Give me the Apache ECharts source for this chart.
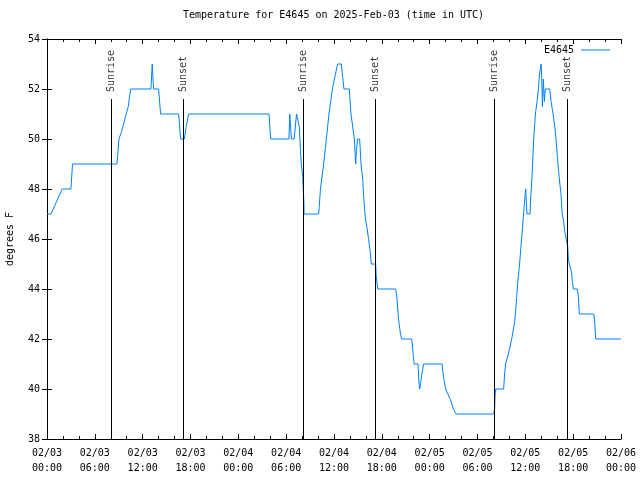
<!DOCTYPE html>
<html>
<head>
<meta charset="utf-8">
<script src="https://cdn.jsdelivr.net/npm/echarts@6/dist/echarts.min.js"></script>
<style>
html,body{margin:0;padding:0;background:#fff;}
#chart{width:640px;height:480px;}
</style>
</head>
<body>
<div id="chart"></div>
<script>
// Hours since 2025-02-03 00:00 UTC
var hours = [
  0.0, 0.5, 1.9, 3.0, 3.2, 8.77, 8.86, 9.02, 9.36, 9.69, 9.94, 10.19, 10.36, 10.49,
  13.04, 13.2, 13.37, 14.0, 14.25, 16.51, 16.64, 16.76, 17.22, 17.47, 17.77,
  27.85, 27.95, 28.05, 30.35, 30.45, 30.55, 30.65, 31.0, 31.3, 31.5, 31.65, 31.8, 31.9,
  32.07, 32.19, 32.22, 32.25, 34.07, 34.15, 34.3, 34.7, 35.04, 35.37, 35.8, 36.45,
  36.92, 37.25, 37.92, 38.13, 38.55, 38.72, 38.8, 38.96, 39.22, 39.39, 39.6, 39.72,
  39.93, 40.14, 40.35, 40.56, 40.68, 41.22, 41.3, 41.48, 43.73, 43.9, 44.1, 44.32,
  44.49, 45.74, 45.87, 45.99, 46.05, 46.54, 46.66, 46.75, 46.87, 47.04, 47.25, 49.55,
  49.67, 49.84, 50.0, 50.6, 51.02, 51.31, 56.03, 56.15, 56.2, 56.28, 57.28, 57.41,
  57.54, 57.79, 58.04, 58.29, 58.54, 58.67, 58.79, 58.92, 59.04, 59.21, 59.34, 59.47,
  59.59, 59.72, 59.84, 59.97, 60.05, 60.13, 60.2, 60.59, 60.63, 60.84, 61.05, 61.26,
  61.47, 61.64, 61.8, 61.98, 62.05, 62.14, 62.26, 62.39, 62.51, 63.06, 63.23, 63.48,
  63.69, 63.85, 64.02, 64.15, 64.32, 64.48, 64.6, 64.8, 64.95, 65.07, 65.32, 65.4,
  65.53, 65.66, 65.78, 65.9, 66.03, 66.53, 66.65, 66.78, 68.58, 68.7, 68.83, 72.0
];
var tempsF = [
  47, 47, 48, 48, 49, 49, 49.3, 50, 50.3, 50.7, 51, 51.3, 51.7, 52,
  52, 53, 52, 52, 51, 51, 50.5, 50, 50, 50.5, 51,
  51, 50.5, 50, 50, 51, 51, 50, 50, 51, 51, 50.5, 49.5, 49,
  48.5, 48.5, 47.5, 47, 47, 47.3, 48, 49, 50, 51, 52, 53,
  53, 52, 52, 51, 50, 49, 49.5, 50, 50, 49, 48.4, 47.7,
  46.84, 46.44, 45.97, 45.44, 45, 45, 44.5, 44, 44, 43.64, 42.77, 42.24,
  42, 42, 41.64, 41.17, 41, 41, 40.24, 40, 40.24, 40.64, 41, 41,
  40.64, 40.3, 40, 39.57, 39.17, 39, 39, 39.2, 39.7, 40, 40, 40.64,
  41.04, 41.3, 41.64, 42, 42, 42.7, 43.17, 43.7, 44.24, 44.77, 45.24, 45.77,
  46.24, 46.77, 47.24, 47.77, 48, 47.5, 47, 47, 47.4, 48.5, 50, 51,
  51.5, 52, 52.64, 53, 52.5, 51.3, 52.4, 51.5, 52, 52, 51.5, 51,
  50.5, 50, 49.3, 48.77, 48.24, 47.77, 47.04, 46.7, 46.3, 46.1, 45.7, 45.17,
  45, 45, 44.7, 44.3, 44, 44, 43.7, 43, 43, 42.7, 42, 42
];
var sunNames = ['Sunrise', 'Sunset', 'Sunrise', 'Sunset', 'Sunrise', 'Sunset'];
var sunHours = [8.1, 17.13, 32.19, 41.22, 56.15, 65.32];
var xTickLabels = [
  '02/03\n00:00', '02/03\n06:00', '02/03\n12:00', '02/03\n18:00',
  '02/04\n00:00', '02/04\n06:00', '02/04\n12:00', '02/04\n18:00',
  '02/05\n00:00', '02/05\n06:00', '02/05\n12:00', '02/05\n18:00',
  '02/06\n00:00'
];
var seriesName = 'E4645';
var titleText = 'Temperature for E4645 on 2025-Feb-03 (time in UTC)';
var yName = 'degrees F';

var markerTop = 51.6;
var FONT = 'DejaVu Sans Mono';

var lineData = hours.map(function (h, i) { return [h, tempsF[i]]; });
var markLines = sunHours.map(function (h) { return [{ coord: [h, 38] }, { coord: [h, markerTop] }]; });
var labelPts = sunHours.map(function (h, i) { return { name: sunNames[i], value: [h, markerTop] }; });

var chart = echarts.init(document.getElementById('chart'), null, { renderer: 'canvas' });
var axisLineStyle = { color: '#000', width: 1 };
var option = {
  animation: false,
  backgroundColor: '#fff',
  title: {
    text: titleText, left: 183, top: 10, padding: 0,
    textStyle: { fontFamily: FONT, fontSize: 10, fontWeight: 'normal', color: '#000' }
  },
  legend: {
    data: [{ name: seriesName, icon: 'rect' }], right: 30, top: 45, align: 'right', padding: 0,
    itemWidth: 29, itemHeight: 1, itemGap: 5,
    textStyle: { fontFamily: FONT, fontSize: 10, color: '#000', padding: [0, 2, 0, 0] }
  },
  grid: { left: 47, right: 19, top: 39, bottom: 41, containLabel: false, outerBoundsMode: 'none' },
  xAxis: [{
    type: 'value', min: 0, max: 72, interval: 6, position: 'bottom',
    axisLine: { show: true, lineStyle: axisLineStyle },
    axisTick: { show: true, inside: true, length: 5, lineStyle: axisLineStyle },
    minorTick: { show: true, splitNumber: 3, length: 3, lineStyle: axisLineStyle },
    splitLine: { show: false },
    axisLabel: {
      show: true, margin: 7, lineHeight: 15, fontFamily: FONT, fontSize: 10, color: '#000',
      showMinLabel: true, showMaxLabel: true,
      formatter: function (v) { return xTickLabels[Math.round(v / 6)]; }
    }
  }, {
    type: 'value', min: 0, max: 72, interval: 6, position: 'top',
    axisLine: { show: true, lineStyle: axisLineStyle },
    axisTick: { show: true, inside: true, length: 5, lineStyle: axisLineStyle },
    minorTick: { show: true, splitNumber: 3, length: 3, lineStyle: axisLineStyle },
    splitLine: { show: false }, axisLabel: { show: false }
  }],
  yAxis: [{
    type: 'value', min: 38, max: 54, interval: 2, position: 'left',
    name: yName, nameLocation: 'middle', nameRotate: 90, nameGap: 32,
    nameTextStyle: { fontFamily: FONT, fontSize: 10, color: '#000' },
    axisLine: { show: true, lineStyle: axisLineStyle },
    axisTick: { show: true, inside: true, length: 5, lineStyle: axisLineStyle },
    splitLine: { show: false },
    axisLabel: { margin: 7, fontFamily: FONT, fontSize: 10, color: '#000' }
  }, {
    type: 'value', min: 38, max: 54, interval: 2, position: 'right',
    axisLine: { show: true, lineStyle: axisLineStyle },
    axisTick: { show: true, inside: true, length: 5, lineStyle: axisLineStyle },
    splitLine: { show: false }, axisLabel: { show: false }
  }],
  series: [{
    name: seriesName, type: 'line', data: lineData, symbol: 'none', showSymbol: false,
    lineStyle: { color: '#0080ff', width: 1 }, itemStyle: { color: '#0080ff' },
    z: 2
  }, {
    name: 'sun', type: 'scatter', data: labelPts, symbolSize: 0, z: 3, silent: true,
    label: {
      show: true, position: 'top', distance: 7, rotate: 90, align: 'left', verticalAlign: 'middle',
      formatter: function (p) { return p.name; },
      fontFamily: FONT, fontSize: 10, color: '#000'
    },
    markLine: {
      silent: true, symbol: ['none', 'none'], animation: false,
      lineStyle: { color: '#000', width: 1, type: 'solid' },
      label: { show: false },
      data: markLines
    }
  }]
};
chart.setOption(option);
</script>
</body>
</html>
